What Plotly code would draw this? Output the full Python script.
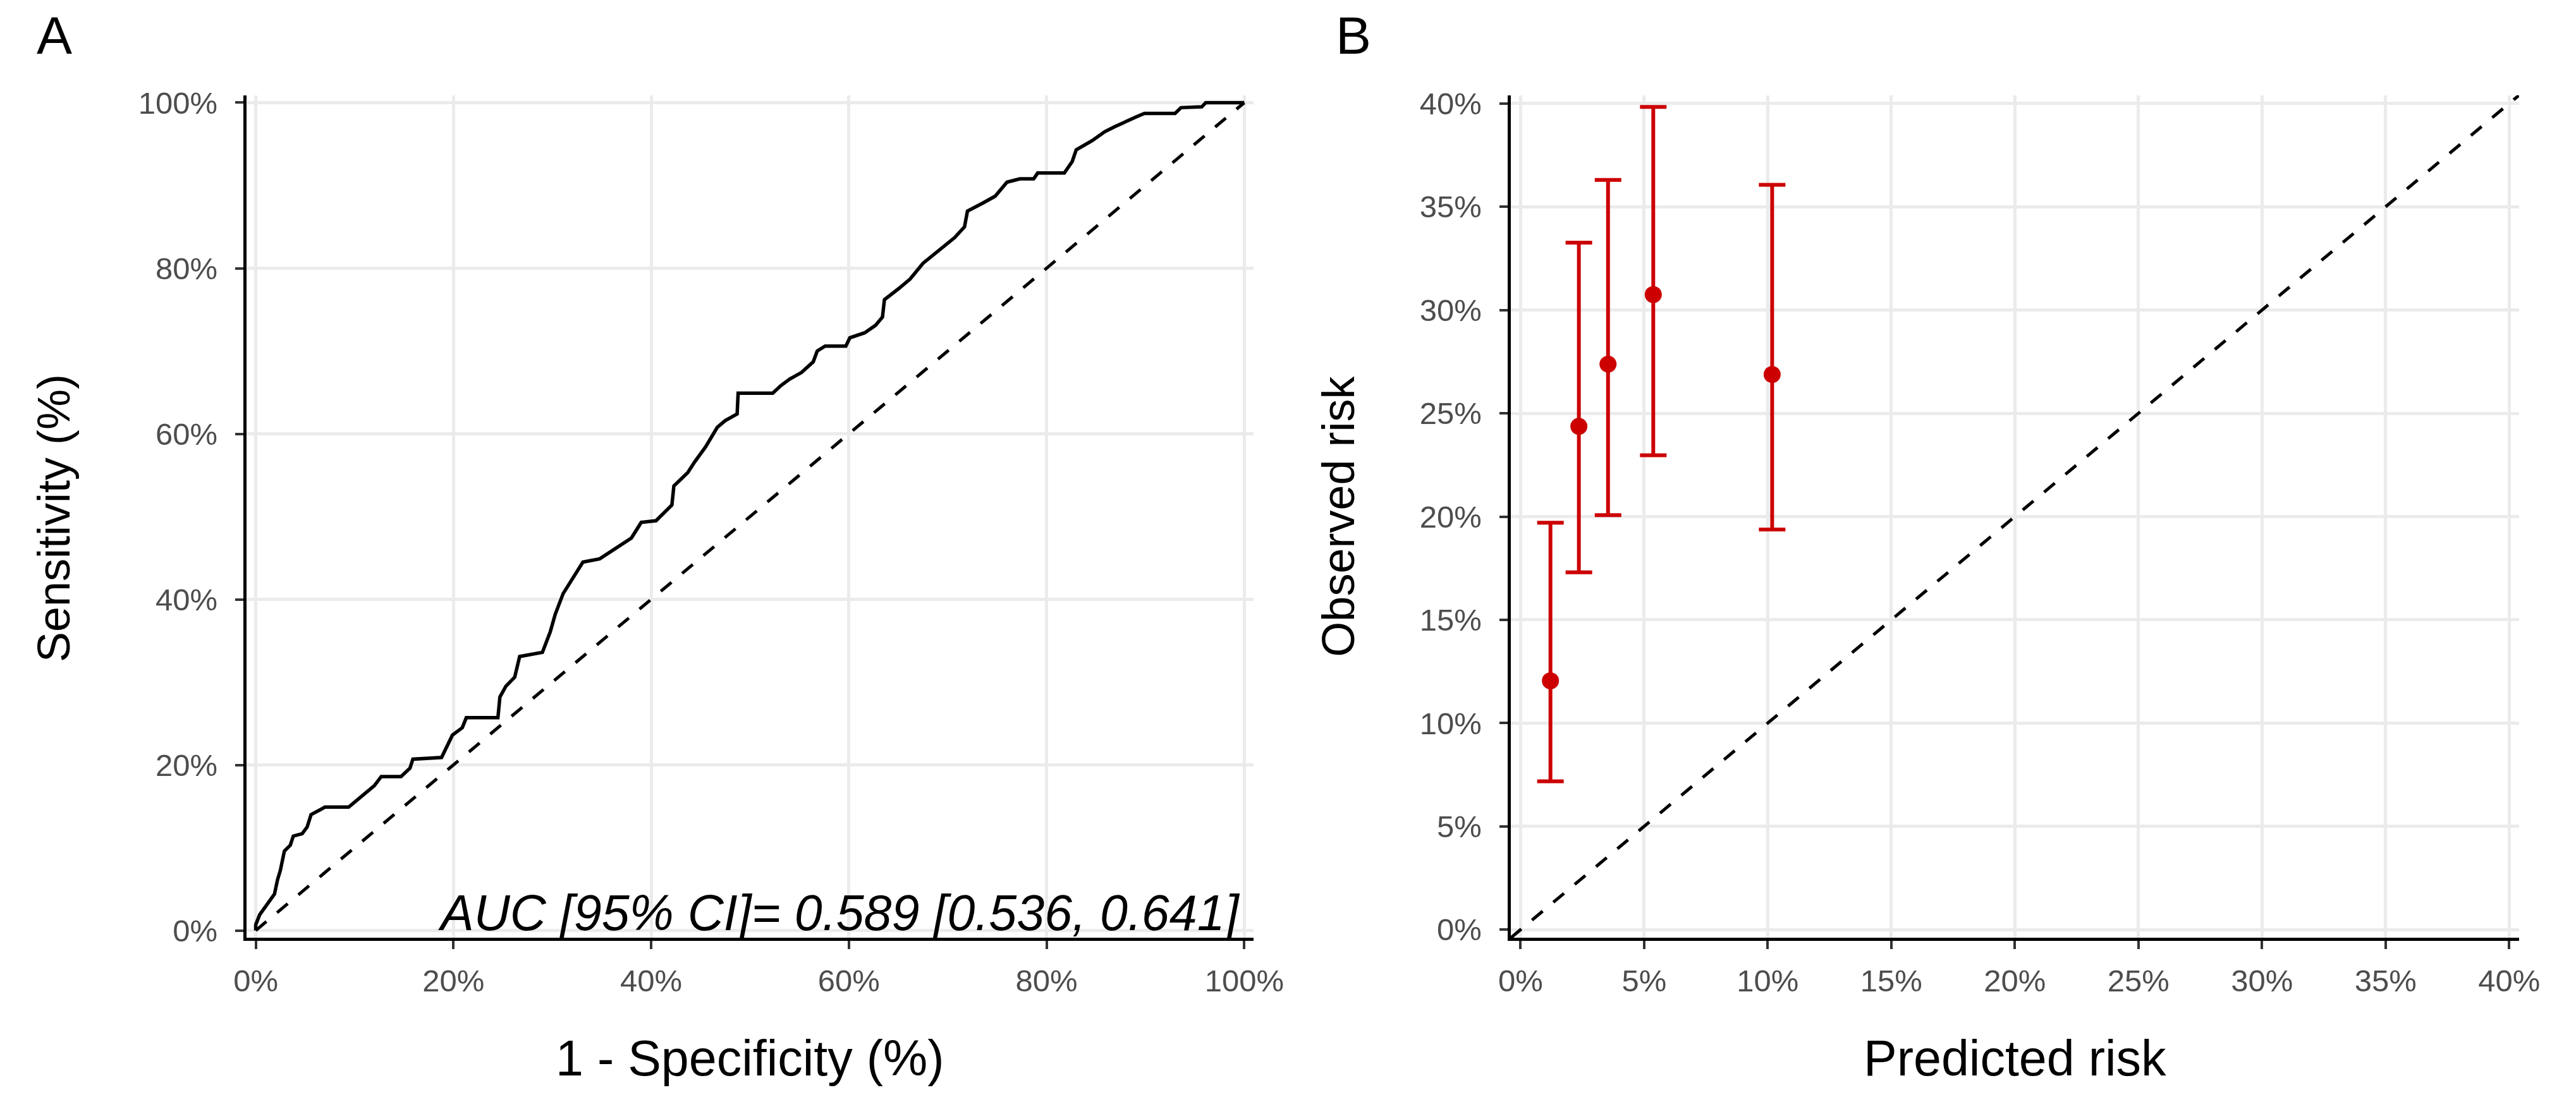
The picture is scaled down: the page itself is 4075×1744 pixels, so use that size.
import plotly.graph_objects as go

# ---------------- Data ----------------
# Panel A: ROC curve (fractions)
roc_fpr = [0.000, 0.000, 0.004, 0.012, 0.019, 0.022, 0.025, 0.029, 0.035, 0.038,
           0.047, 0.052, 0.056, 0.070, 0.094, 0.102, 0.112, 0.120, 0.127, 0.147,
           0.156, 0.159, 0.188, 0.194, 0.199, 0.209, 0.213, 0.245, 0.247, 0.253,
           0.262, 0.267, 0.290, 0.298, 0.303, 0.311, 0.323, 0.331, 0.348, 0.364,
           0.380, 0.390, 0.405, 0.421, 0.423, 0.437, 0.444, 0.455, 0.467, 0.475,
           0.487, 0.488, 0.523, 0.531, 0.540, 0.552, 0.564, 0.568, 0.576, 0.597,
           0.601, 0.616, 0.627, 0.634, 0.636, 0.650, 0.662, 0.675, 0.691, 0.707,
           0.717, 0.720, 0.736, 0.748, 0.760, 0.773, 0.787, 0.791, 0.818, 0.826,
           0.830, 0.846, 0.859, 0.869, 0.891, 0.899, 0.930, 0.936, 0.957, 0.961,
           1.000]
roc_tpr = [0.000, 0.007, 0.019, 0.032, 0.044, 0.061, 0.073, 0.096, 0.103, 0.114,
           0.117, 0.125, 0.140, 0.149, 0.149, 0.157, 0.167, 0.175, 0.186, 0.186,
           0.196, 0.207, 0.209, 0.224, 0.236, 0.245, 0.257, 0.257, 0.282, 0.295,
           0.306, 0.331, 0.336, 0.361, 0.382, 0.407, 0.431, 0.445, 0.449, 0.462,
           0.474, 0.493, 0.495, 0.514, 0.537, 0.553, 0.566, 0.584, 0.608, 0.616,
           0.624, 0.649, 0.649, 0.658, 0.666, 0.674, 0.687, 0.700, 0.706, 0.706,
           0.716, 0.722, 0.731, 0.741, 0.762, 0.775, 0.787, 0.806, 0.821, 0.837,
           0.850, 0.869, 0.879, 0.887, 0.904, 0.908, 0.908, 0.915, 0.915, 0.929,
           0.943, 0.954, 0.965, 0.971, 0.983, 0.987, 0.987, 0.994, 0.995, 1.000,
           1.000]
auc_label = "AUC [95% CI]= 0.589 [0.536, 0.641]"

# Panel B: calibration (fractions)
pred_risk = [0.0121, 0.0236, 0.0354, 0.0537, 0.1018]
obs_risk = [0.1205, 0.2437, 0.2738, 0.3075, 0.2688]
obs_lower = [0.0718, 0.1730, 0.2007, 0.2297, 0.1937]
obs_upper = [0.1970, 0.3326, 0.3630, 0.3983, 0.3606]

ticks_a = [0, 0.2, 0.4, 0.6, 0.8, 1.0]
ticks_b = [0, 0.05, 0.10, 0.15, 0.20, 0.25, 0.30, 0.35, 0.40]

FONT = "Liberation Sans"
RED = "#CC0000"
GRID = "#EBEBEB"
W, H = 4075, 1744

fig = go.Figure()

# Panel A
fig.add_trace(go.Scatter(x=[0, 1], y=[0, 1], mode="lines",
                         line=dict(color="black", width=5, dash="22px,22px"),
                         xaxis="x", yaxis="y", showlegend=False, hoverinfo="skip"))
fig.add_trace(go.Scatter(x=roc_fpr, y=roc_tpr, mode="lines",
                         line=dict(color="black", width=5.5),
                         xaxis="x", yaxis="y", showlegend=False))

# Panel B
rangeB = [-0.004, 0.404]
fig.add_trace(go.Scatter(x=rangeB, y=rangeB, mode="lines",
                         line=dict(color="black", width=5, dash="22px,22px"),
                         xaxis="x2", yaxis="y2", showlegend=False, hoverinfo="skip"))
fig.add_trace(go.Scatter(
    x=pred_risk, y=obs_risk, mode="markers",
    marker=dict(color=RED, size=27),
    error_y=dict(type="data", symmetric=False,
                 array=[u - o for u, o in zip(obs_upper, obs_risk)],
                 arrayminus=[o - l for o, l in zip(obs_risk, obs_lower)],
                 color=RED, thickness=6, width=21),
    xaxis="x2", yaxis="y2", showlegend=False))

axis_common = dict(
    showline=True, linecolor="black", linewidth=5, mirror=False,
    ticks="outside", ticklen=13, tickwidth=4, tickcolor="#333333",
    showgrid=True, gridcolor=GRID, gridwidth=5, zeroline=False,
    tickfont=dict(family=FONT, size=49, color="#4D4D4D"),
    tickformat=".0%", fixedrange=True,
)

fig.update_layout(
    width=W, height=H,
    margin=dict(l=0, r=0, t=0, b=0),
    paper_bgcolor="white", plot_bgcolor="white",
    xaxis=dict(domain=[0.0903, 0.4879], range=[-0.0094, 1.0094], tickvals=ticks_a,
               anchor="y", ticklabelstandoff=8, **axis_common),
    yaxis=dict(domain=[0.1474, 0.9255], range=[-0.009, 1.009], tickvals=ticks_a,
               anchor="x", ticklabelstandoff=18, **axis_common),
    xaxis2=dict(domain=[0.5894, 0.9875], range=rangeB, tickvals=ticks_b,
                anchor="y2", ticklabelstandoff=8, **axis_common),
    yaxis2=dict(domain=[0.1474, 0.9255], range=rangeB, tickvals=ticks_b,
                anchor="x2", ticklabelstandoff=18, **axis_common),
    font=dict(family=FONT),
)

ann = []
# AUC label
ann.append(dict(text="<i>" + auc_label + "</i>", x=1.0, y=0, xref="x", yref="y",
                xanchor="right", yanchor="bottom", yshift=-18, xshift=-4, showarrow=False,
                font=dict(family=FONT, size=79, color="black")))
# Panel letters
ann.append(dict(text="A", x=28 / W, y=(H - 34) / H, xref="paper", yref="paper",
                xanchor="left", yanchor="middle", showarrow=False,
                font=dict(family=FONT, size=84, color="black")))
ann.append(dict(text="B", x=2118 / W, y=(H - 34) / H, xref="paper", yref="paper",
                xanchor="left", yanchor="middle", showarrow=False,
                font=dict(family=FONT, size=84, color="black")))
# Axis titles
ann.append(dict(text="1 - Specificity (%)", x=1178 / W, y=(H - 1680) / H,
                xref="paper", yref="paper", xanchor="center", yanchor="middle",
                showarrow=False, font=dict(family=FONT, size=79, color="black")))
ann.append(dict(text="Predicted risk", x=3213 / W, y=(H - 1680) / H,
                xref="paper", yref="paper", xanchor="center", yanchor="middle",
                showarrow=False, font=dict(family=FONT, size=79, color="black")))
ann.append(dict(text="Sensitivity (%)", x=58 / W, y=(H - 811) / H,
                xref="paper", yref="paper", xanchor="center", yanchor="middle",
                textangle=-90, showarrow=False, font=dict(family=FONT, size=72, color="black")))
ann.append(dict(text="Observed risk", x=2125 / W, y=(H - 808) / H,
                xref="paper", yref="paper", xanchor="center", yanchor="middle",
                textangle=-90, showarrow=False, font=dict(family=FONT, size=72, color="black")))
fig.update_layout(annotations=ann)

fig.write_html("out.html")
